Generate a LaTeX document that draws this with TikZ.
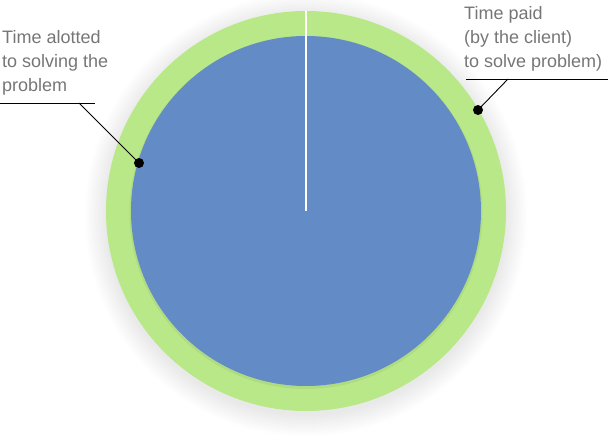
\documentclass[tikz,border=0pt]{standalone}
\usepackage{fontspec}
\setmainfont{Liberation Sans}
\usetikzlibrary{positioning}
\definecolor{ringgreen}{RGB}{185,232,136}
\definecolor{pieblue}{RGB}{99,140,199}
\definecolor{labelgray}{RGB}{118,118,118}
\tikzset{
  marker/.style={circle,fill=black,inner sep=0pt,minimum size=10pt},
  caption/.style={align=left,inner sep=0pt,text=labelgray,
    font=\fontsize{18}{24}\selectfont},
  pointer/.style={black,line width=0.9pt}
}

\begin{document}
\begin{tikzpicture}[x=1pt,y=-1pt]
        \useasboundingbox (0,0) rectangle (608,436);
        % soft shadow under the dial
        \foreach \r in {1,3,...,21}
            \fill[black,opacity=0.008] (306,215) circle[radius=200+\r];
        \node(outer) [circle,fill=ringgreen,minimum size=400pt,inner sep=0pt] at (306,211) {};
        \fill[black,opacity=0.05] (306,212.5) circle[radius=176.5];
        \node(inner) [circle,fill=pieblue,minimum size=350pt,inner sep=0pt] at (306,211) {};
        \draw[white,line width=2pt] (outer.north) -- (outer.center);
        % labels
        \node(alotted) [caption,anchor=north west] at (2,30) {Time alotted\\to solving the\\problem};
        \node(paid) [caption,anchor=north west] at (464,6) {Time paid\\(by the client)\\to solve problem)};
        \coordinate(ulA) at (0,103);
        \coordinate(ulB) at (95,103);
        \coordinate(urA) at (466,79);
        \coordinate(urB) at (608,79);
        \coordinate(footL) at (79,103);
        \coordinate(footR) at (508,79);
        \node(dotL) [marker] at (139,163) {};
        \node(dotR) [marker] at (478,110) {};
        \draw[pointer] (ulA) -- (ulB);
        \draw[pointer] (urA) -- (urB);
        \draw[pointer] (footL) -- (dotL.center);
        \draw[pointer] (footR) -- (dotR.center);
    \end{tikzpicture}
\end{document}
